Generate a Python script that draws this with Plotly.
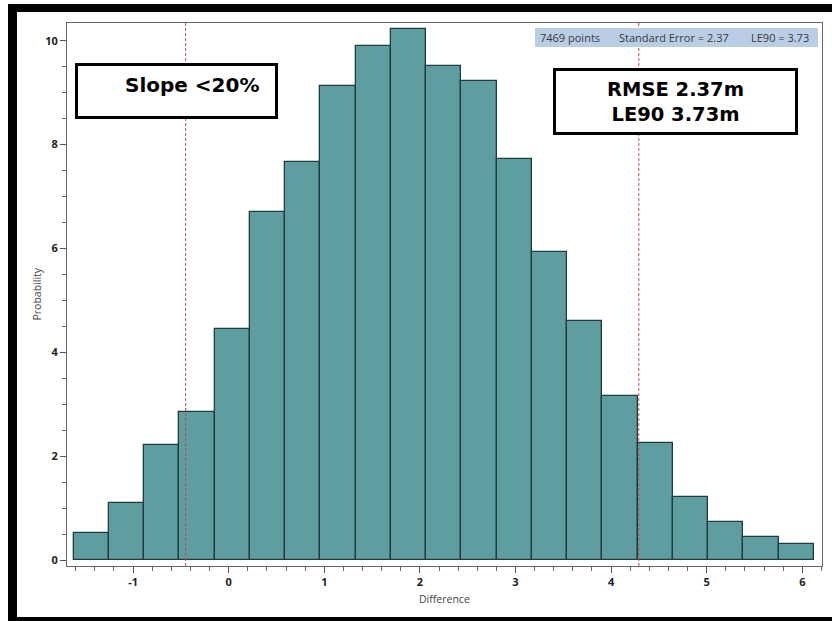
import numpy as np
import plotly.graph_objects as go

# ---------------- data ----------------
bin_edges = [-1.621, -1.252, -0.884, -0.515, -0.146, 0.223, 0.591, 0.960, 1.329,
             1.697, 2.066, 2.435, 2.803, 3.172, 3.541, 3.910, 4.278, 4.647,
             5.016, 5.384, 5.753, 6.122]
probability = [0.53, 1.10, 2.22, 2.85, 4.46, 6.70, 7.66, 9.12, 9.89, 10.23,
               9.51, 9.22, 7.72, 5.93, 4.60, 3.16, 2.25, 1.21, 0.73, 0.44, 0.32]
ref_lines = [-0.45, 4.29]          # mean -/+ RMSE
x_tick_vals = [-1, 0, 1, 2, 3, 4, 5, 6]
x_tick_labels = ["-1", "0", "1", "2", "3", "4", "5", "6"]
y_tick_vals = [0, 2, 4, 6, 8, 10]
y_tick_labels = ["0", "2", "4", "6", "8", "10"]
stats_texts = ["7469 points", "Standard Error = 2.37", "LE90 = 3.73"]
box1_text = "Slope <20%"
box2_text = "RMSE 2.37m<br>LE90 3.73m"

# ---------------- geometry helpers (pixel -> paper) ----------------
W, H = 832, 621
ML, MR, MT, MB = 67, 10, 23, 55
PW, PH = W - ML - MR, H - MT - MB


def px(xp):
    return (xp - ML) / PW


def py(yp):
    return (H - MB - yp) / PH


edges = np.array(bin_edges)
centers = (edges[:-1] + edges[1:]) / 2
widths = np.diff(edges)

fig = go.Figure()
fig.add_trace(go.Bar(
    x=centers, y=probability, width=widths,
    marker=dict(color="#5f9ea0", line=dict(color="#1f3d3e", width=1.3)),
    hoverinfo="x+y", showlegend=False,
))

shapes = []
# reference lines
for v in ref_lines:
    shapes.append(dict(type="line", xref="x", yref="paper", x0=v, x1=v, y0=0, y1=1,
                       line=dict(color="#c8454a", width=1, dash="3px,2px"), layer="above"))
# stats band
shapes.append(dict(type="rect", xref="paper", yref="paper", x0=px(535), x1=px(818),
                   y0=py(47), y1=py(28), fillcolor="#b9cde4", line=dict(width=0), layer="above"))
# annotation boxes
shapes.append(dict(type="rect", xref="paper", yref="paper", x0=px(76.5), x1=px(276.5),
                   y0=py(117.5), y1=py(64.5), fillcolor="white",
                   line=dict(color="black", width=3), layer="above"))
shapes.append(dict(type="rect", xref="paper", yref="paper", x0=px(554.5), x1=px(796.5),
                   y0=py(133.5), y1=py(69.5), fillcolor="white",
                   line=dict(color="black", width=3), layer="above"))
# black outer frame (top, left, bottom)
for (x0, x1, y0, y1) in [(8, 832, 4, 12), (8, 17, 4, 621), (8, 832, 617, 621)]:
    shapes.append(dict(type="rect", xref="paper", yref="paper", x0=px(x0), x1=px(x1),
                       y0=py(y1), y1=py(y0), fillcolor="black", line=dict(width=0),
                       layer="above"))

annotations = []
stat_x = [570, 674, 780]
for t, xc in zip(stats_texts, stat_x):
    annotations.append(dict(text=t, xref="paper", yref="paper", x=px(xc), y=py(37.5),
                            showarrow=False, xanchor="center", yanchor="middle",
                            font=dict(family="Open Sans", size=11, color="#3a3a3a")))
annotations.append(dict(text=box1_text, xref="paper", yref="paper", x=px(191.5), y=py(85),
                        showarrow=False, xanchor="center", yanchor="middle",
                        font=dict(family="DejaVu Sans", size=20, color="black", weight="bold")))
annotations.append(dict(text=box2_text, xref="paper", yref="paper", x=px(675.5), y=py(102),
                        showarrow=False, xanchor="center", yanchor="middle",
                        font=dict(family="DejaVu Sans", size=19.5, color="black", weight="bold")))
annotations.append(dict(text="Probability", xref="paper", yref="paper", x=px(36), y=0.5,
                        textangle=-90, showarrow=False, xanchor="center", yanchor="middle",
                        font=dict(family="Open Sans", size=10.5, color="#444")))
annotations.append(dict(text="Difference", xref="paper", yref="paper", x=0.5, y=py(599),
                        showarrow=False, xanchor="center", yanchor="middle",
                        font=dict(family="Open Sans", size=10.5, color="#444")))

axis_common = dict(showgrid=False, zeroline=False, showline=True, linecolor="#666",
                   linewidth=1, mirror=True, ticks="outside", ticklen=6, tickcolor="#555",
                   tickfont=dict(family="Open Sans", size=11, color="#222", weight="bold"))

fig.update_layout(
    width=W, height=H,
    margin=dict(l=ML, r=MR, t=MT, b=MB, pad=0),
    paper_bgcolor="white", plot_bgcolor="white",
    bargap=0,
    xaxis=dict(range=[-1.691, 6.206], tickmode="array", tickvals=x_tick_vals,
               ticktext=x_tick_labels,
               minor=dict(dtick=0.2, tick0=0, ticks="outside", ticklen=4, tickcolor="#666"),
               **axis_common),
    yaxis=dict(range=[-0.11, 10.34], tickmode="array", tickvals=y_tick_vals,
               ticktext=y_tick_labels,
               minor=dict(dtick=0.5, tick0=0, ticks="outside", ticklen=4, tickcolor="#666"),
               **axis_common),
    shapes=shapes,
    annotations=annotations,
)

fig.write_html("out.html", config={"displayModeBar": False},
               post_script="document.body.style.margin='0';document.body.style.overflow='hidden';")
